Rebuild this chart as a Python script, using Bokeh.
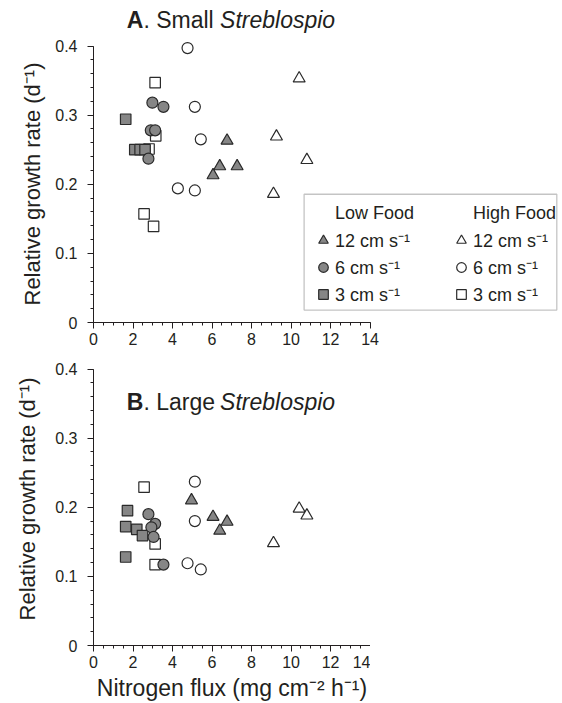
from bokeh.plotting import figure
from bokeh.layouts import column
from bokeh.models import (Range1d, SingleIntervalTicker, CustomJSTickFormatter, Label, Title,
                          Legend, LegendItem, BoxAnnotation, ColumnDataSource)
from bokeh.embed import file_html
from bokeh.resources import INLINE

# ---------------- data ----------------
# Panel A: Small Streblospio
a_low12_x = [6.76, 6.39, 7.27, 6.05]
a_low12_y = [0.263, 0.226, 0.226, 0.213]
a_low6_x = [2.98, 3.54, 2.90, 3.12, 2.78]
a_low6_y = [0.318, 0.312, 0.278, 0.278, 0.237]
a_low3_x = [1.63, 2.09, 2.36, 2.61]
a_low3_y = [0.294, 0.250, 0.250, 0.250]
a_high12_x = [10.41, 9.26, 10.80, 9.11]
a_high12_y = [0.353, 0.269, 0.235, 0.186]
a_high6_x = [4.76, 5.13, 5.43, 4.27, 5.13]
a_high6_y = [0.397, 0.312, 0.265, 0.194, 0.191]
a_high3_x = [3.12, 3.15, 2.81, 2.56, 3.04]
a_high3_y = [0.347, 0.270, 0.251, 0.157, 0.139]

# Panel B: Large Streblospio
b_low12_x = [4.96, 6.05, 6.76, 6.39]
b_low12_y = [0.210, 0.186, 0.179, 0.166]
b_low6_x = [2.78, 3.12, 2.93, 3.04, 3.54]
b_low6_y = [0.190, 0.176, 0.171, 0.157, 0.117]
b_low3_x = [1.72, 1.63, 2.19, 2.48, 1.63]
b_low3_y = [0.195, 0.172, 0.168, 0.159, 0.128]
b_high12_x = [9.11, 10.41, 10.80]
b_high12_y = [0.148, 0.198, 0.188]
b_high6_x = [5.13, 5.13, 4.76, 5.43]
b_high6_y = [0.237, 0.180, 0.119, 0.110]
b_high3_x = [2.56, 3.12, 3.12]
b_high3_y = [0.229, 0.147, 0.117]

legend_headers = ["Low Food", "High Food"]
speed_labels = ["12 cm s\u207b\u00b9", "6 cm s\u207b\u00b9", "3 cm s\u207b\u00b9"]
x_label = "Nitrogen flux (mg cm\u207b\u00b2 h\u207b\u00b9)"
y_label = "Relative growth rate (d\u207b\u00b9)"

# ---------------- styling ----------------
FONT = "Liberation Sans"
TXT = "#231f20"
GRAY = "#868686"
DARK = "#2a2a2a"
PX_X = 19.757      # pixels per x unit
PX_Y = 691.25      # pixels per y unit


def make_fig(frame_w, frame_h, border_bottom):
    p = figure(frame_width=frame_w, frame_height=frame_h,
               min_border_left=93, min_border_right=0, min_border_top=0,
               min_border_bottom=border_bottom,
               x_range=Range1d(0, frame_w / PX_X), y_range=Range1d(0, frame_h / PX_Y),
               toolbar_location=None, output_backend="svg")
    p.outline_line_color = None
    p.xgrid.visible = False
    p.ygrid.visible = False
    p.background_fill_color = "white"
    p.border_fill_color = "white"

    xa = p.xaxis[0]
    xa.bounds = (0, 14)
    xa.ticker = SingleIntervalTicker(interval=2, num_minor_ticks=4)
    ya = p.yaxis[0]
    ya.bounds = (0, 0.4)
    ya.ticker = SingleIntervalTicker(interval=0.1, num_minor_ticks=5)
    ya.formatter = CustomJSTickFormatter(code="return Math.abs(tick) < 1e-9 ? '0' : tick.toFixed(1);")
    for ax in (xa, ya):
        ax.axis_line_color = TXT
        ax.axis_line_width = 1
        ax.major_tick_line_color = TXT
        ax.minor_tick_line_color = TXT
        ax.major_tick_out = 6
        ax.major_tick_in = 0
        ax.minor_tick_out = 3
        ax.minor_tick_in = 0
        ax.major_label_text_font = FONT
        ax.major_label_text_font_size = "16px"
        ax.major_label_text_color = TXT
        ax.axis_label_text_font = FONT
        ax.axis_label_text_font_size = "22px"
        ax.axis_label_text_font_style = "normal"
        ax.axis_label_text_color = TXT
    xa.major_label_standoff = 4
    ya.major_label_standoff = 10
    return p


def add_series(p, xs, ys, marker, gray, size):
    src = ColumnDataSource(dict(x=xs, y=ys))
    fill = GRAY if gray else "white"
    return p.scatter("x", "y", source=src, marker=marker, size=size,
                     fill_color=fill, line_color=DARK, line_width=1.2)


def add_title(p, x, y, part1, part2, part3):
    common = dict(x=x, y=y, text_font=FONT, text_font_size="23px",
                  text_color=TXT, text_baseline="middle", text_align="left")
    p.add_layout(Label(text=part1, text_font_style="bold", **common))
    p.add_layout(Label(text=part2, text_font_style="normal", x_offset=16.6, **common))
    p.add_layout(Label(text=part3, text_font_style="italic", x_offset=93.3, **common))


def draw_panel(p, d):
    r = {}
    r["high3"] = add_series(p, d["high3"][0], d["high3"][1], "square", False, 10.5)
    r["high6"] = add_series(p, d["high6"][0], d["high6"][1], "circle", False, 11)
    r["high12"] = add_series(p, d["high12"][0], d["high12"][1], "triangle", False, 12)
    r["low3"] = add_series(p, d["low3"][0], d["low3"][1], "square", True, 10.5)
    r["low6"] = add_series(p, d["low6"][0], d["low6"][1], "circle", True, 11)
    r["low12"] = add_series(p, d["low12"][0], d["low12"][1], "triangle", True, 12)
    return r


# ---------------- top panel ----------------
p1 = make_fig(469, 322, 30)
# y label as a side title so it can be centred on the 0-0.4 axis
p1.add_layout(Title(text=y_label, align="left", offset=17, standoff=15,
                    text_font=FONT, text_font_size="22px", text_font_style="normal",
                    text_color=TXT), "left")
rA = draw_panel(p1, {
    "low12": (a_low12_x, a_low12_y), "low6": (a_low6_x, a_low6_y), "low3": (a_low3_x, a_low3_y),
    "high12": (a_high12_x, a_high12_y), "high6": (a_high6_x, a_high6_y), "high3": (a_high3_x, a_high3_y)})
add_title(p1, 1.685, 0.437, "A", ". Small ", "Streblospio")

# invisible renderer for the legend headers
hdr = p1.scatter(x=[], y=[], marker="circle", size=1, fill_alpha=0, line_alpha=0)

p1.add_layout(BoxAnnotation(left=10.66, right=23.45, bottom=0.018, top=0.1855,
                            fill_alpha=0, line_color="#3a3a3a", line_width=1.3))

def make_legend(header, rends, loc, standoff):
    items = [LegendItem(label=header, renderers=[hdr])]
    for lab, rr in zip(speed_labels, rends):
        items.append(LegendItem(label=lab, renderers=[rr]))
    lg = Legend(items=items, location=loc, orientation="vertical",
                border_line_color=None, background_fill_alpha=0,
                padding=0, margin=0, spacing=1,
                glyph_width=24, glyph_height=26, label_height=26,
                label_standoff=standoff,
                label_text_font=FONT, label_text_font_size="18px",
                label_text_color=TXT, label_text_baseline="middle")
    p1.add_layout(lg)

make_legend(legend_headers[0], [rA["low12"], rA["low6"], rA["low3"]], (218, 15), -2)
make_legend(legend_headers[1], [rA["high12"], rA["high6"], rA["high3"]], (356, 15), -6)

# ---------------- bottom panel ----------------
p2 = make_fig(277, 293, 58)
p2.yaxis[0].axis_label = y_label
p2.yaxis[0].axis_label_standoff = 12
p2.xaxis[0].axis_label = x_label
p2.xaxis[0].axis_label_standoff = 4
p2.xaxis[0].axis_label_text_font_size = "23px"
draw_panel(p2, {
    "low12": (b_low12_x, b_low12_y), "low6": (b_low6_x, b_low6_y), "low3": (b_low3_x, b_low3_y),
    "high12": (b_high12_x, b_high12_y), "high6": (b_high6_x, b_high6_y), "high3": (b_high3_x, b_high3_y)})
add_title(p2, 1.685, 0.352, "B", ". Large ", "Streblospio")

layout = column(p1, p2, spacing=0)
open("out.html", "w").write(file_html(layout, INLINE))
